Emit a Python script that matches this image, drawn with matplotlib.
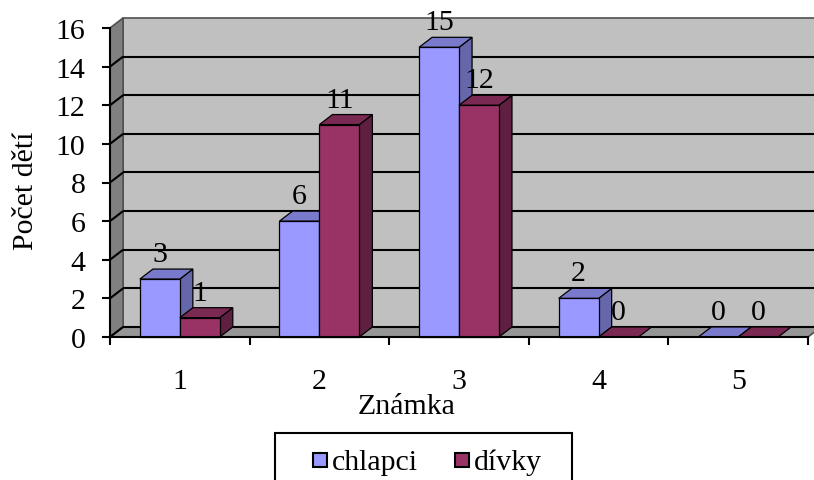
import numpy as np
import matplotlib
matplotlib.use("Agg")
import matplotlib.pyplot as plt
from matplotlib.patches import Polygon, Rectangle

plt.rcParams['font.family'] = ['Liberation Serif', 'DejaVu Serif']

# data
grades = [1, 2, 3, 4, 5]
grade_labels = ["1", "2", "3", "4", "5"]
boys = [3, 6, 15, 2, 0]
girls = [1, 11, 12, 0, 0]
series_names = ["chlapci", "dívky"]
y_ticks = [0, 2, 4, 6, 8, 10, 12, 14, 16]

FS = 21.5
fig = plt.figure(figsize=(8.14, 4.81), dpi=100)
ax = fig.add_axes([110 / 814, 1 - 338 / 481, 698 / 814, 309 / 481])
ax.set_xlim(0.5, 5.5)
ax.set_ylim(0, 16)
ax.patch.set_visible(False)

# depth of the pseudo-3D box, in points
DX_PT, DY_PT = 9.4, 7.2
DX = DX_PT * fig.dpi / 72.0
DY = DY_PT * fig.dpi / 72.0


def back(x, y):
    px = ax.transData.transform((x, y)) + np.array([DX, DY])
    return tuple(ax.transData.inverted().transform(px))


def poly(pts, fc, ec="black", lw=0.9, z=1):
    ax.add_patch(Polygon(pts, closed=True, facecolor=fc, edgecolor=ec,
                         linewidth=lw, zorder=z, clip_on=False))


x0, x1 = 0.5, 5.5
ytop = 16
# walls and floor
poly([back(x0, 0), back(x1, 0), back(x1, ytop), back(x0, ytop)], "#C0C0C0", ec="#505050", lw=1.2, z=1)
poly([(x0, 0), (x0, ytop), back(x0, ytop), back(x0, 0)], "#808080", ec="#505050", lw=1.2, z=1)
poly([(x0, 0), (x1, 0), back(x1, 0), back(x0, 0)], "#969696", ec="#505050", lw=1.2, z=1)

# gridlines on back wall and side wall
for yv in y_ticks[:-1]:
    a, b = back(x0, yv), back(x1, yv)
    ax.plot([a[0], b[0]], [a[1], b[1]], color="black", lw=1.5, zorder=2, clip_on=False,
            solid_capstyle="butt")
    ax.plot([x0, a[0]], [yv, a[1]], color="black", lw=1.5, zorder=2, clip_on=False,
            solid_capstyle="butt")

# bars
BW = 0.286
styles = [
    ("#9999FF", "#7A7ACC", "#6666AA"),
    ("#993366", "#7A2952", "#5E1F40"),
]
z = 3
for i, g in enumerate(grades):
    for s, vals in enumerate([boys, girls]):
        v = vals[i]
        left = g - BW + s * BW
        right = left + BW
        front_c, top_c, side_c = styles[s]
        if v > 0:
            poly([(right, 0), (right, v), back(right, v), back(right, 0)], side_c, z=z)
        poly([(left, v), (right, v), back(right, v), back(left, v)], top_c, z=z)
        if v > 0:
            poly([(left, 0), (right, 0), (right, v), (left, v)], front_c, z=z)
        z += 0.01
        ax.annotate(str(v), (left + BW / 2, v), xytext=(0, 18), textcoords="offset points",
                    ha="center", va="center", fontsize=FS, zorder=10, annotation_clip=False)

# axes
for side in ["top", "right"]:
    ax.spines[side].set_visible(False)
for side in ["left", "bottom"]:
    ax.spines[side].set_linewidth(1.5)
    ax.spines[side].set_zorder(5)

ax.set_yticks(y_ticks)
ax.set_yticklabels([str(t) for t in y_ticks])
ax.tick_params(axis="y", direction="out", length=5.8, width=1.5, pad=12, labelsize=FS)
ax.set_xticks(grades)
ax.set_xticklabels(grade_labels)
ax.set_xticks(np.arange(0.5, 5.6, 1.0), minor=True)
ax.tick_params(axis="x", which="major", length=0, pad=22.5, labelsize=FS)
ax.tick_params(axis="x", which="minor", direction="out", length=5.8, width=1.5)

fig.text(407 / 814, 1 - 414 / 481, "Známka", ha="center", va="baseline", fontsize=FS)
fig.text(33 / 814, 1 - 191 / 481, "Počet dětí", ha="center", va="baseline", rotation=90,
         rotation_mode="anchor", fontsize=FS)

# legend box
lx0, lx1, ly_top = 275 / 814, 572 / 814, 1 - 434 / 481
fig.patches.append(Rectangle((lx0, -0.05), lx1 - lx0, ly_top + 0.05, transform=fig.transFigure,
                             facecolor="white", edgecolor="black", linewidth=1.5))
for name, (front_c, _, _), hx in zip(series_names, styles, [313, 455]):
    fig.patches.append(Rectangle((hx / 814, 1 - 468 / 481), 14 / 814, 14 / 481,
                                 transform=fig.transFigure, facecolor=front_c,
                                 edgecolor="black", linewidth=1.5))
    fig.text((hx + 19) / 814, 1 - 470 / 481, name, ha="left", va="baseline", fontsize=FS)

fig.savefig("out.png", dpi=100, facecolor="white")
